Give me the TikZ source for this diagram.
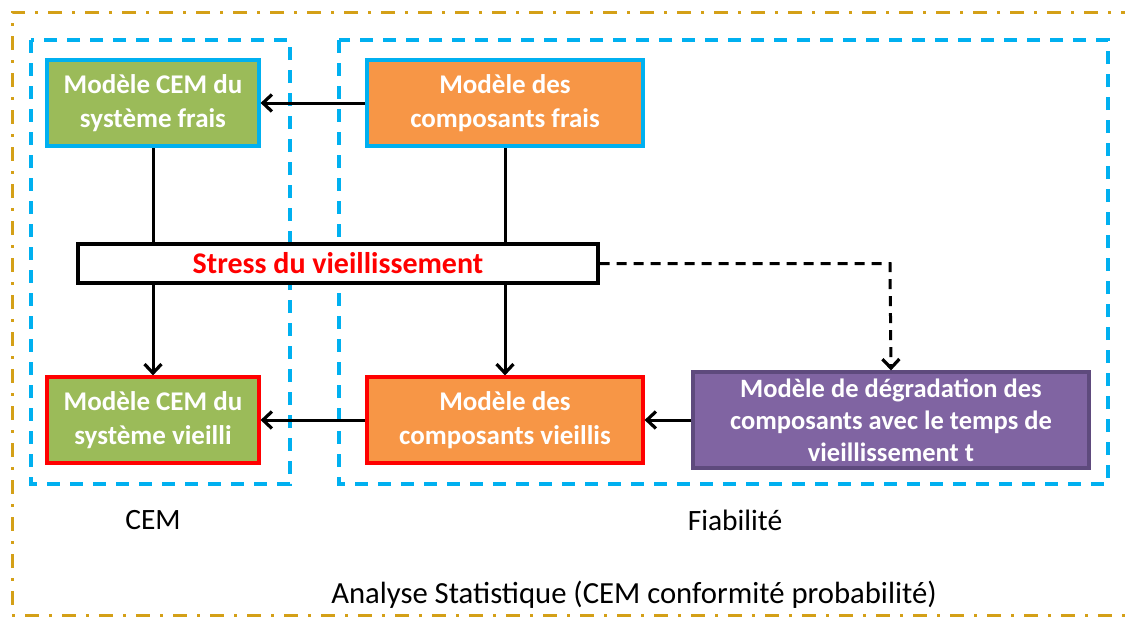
\documentclass[tikz,border=0pt]{standalone}
\usepackage{fontspec}
\setmainfont{Carlito}
\usetikzlibrary{arrows.meta,backgrounds}
\definecolor{cgreen}{HTML}{9BBB59}
\definecolor{corange}{HTML}{F79646}
\definecolor{cpurple}{HTML}{8064A2}
\definecolor{cpurpled}{HTML}{5E4A7D}
\definecolor{ccyan}{HTML}{00B0F0}
\definecolor{cgold}{HTML}{D4A017}
\tikzset{
  box/.style={draw, line width=3.2pt, minimum height=86pt, align=center, text=white,
    font=\fontsize{27}{34}\selectfont\bfseries, inner sep=0pt},
  region/.style={draw=ccyan, line width=3.3pt, dash pattern=on 13pt off 10pt},
  outer/.style={draw=cgold, line width=3pt, dash pattern=on 14pt off 10pt on 3pt off 10pt},
  conn/.style={line width=3pt, -{Straight Barb[length=9pt,width=17pt,line width=3.2pt]}},
  lbl/.style={font=\fontsize{29.5}{34}\selectfont, inner sep=0pt}
}
\begin{document}
\begin{tikzpicture}[x=1pt,y=-1pt]
\useasboundingbox (0,0) rectangle (1125,619);
\node[box, fill=cgreen, draw=ccyan, minimum width=212pt] (cemf) at (153,103) {Modèle CEM du\\système frais};
\node[box, fill=corange, draw=ccyan, minimum width=276pt] (compf) at (505,103) {Modèle des\\composants frais};
\node[draw, line width=3.2pt, fill=white, minimum width=520pt, minimum height=39pt, inner sep=0pt,
  text=red, font=\fontsize{30}{34}\selectfont\bfseries] (stress) at (338,263.5) {Stress du vieillissement};
\node[box, fill=cgreen, draw=red, minimum width=212pt] (cemv) at (153,420) {Modèle CEM du\\système vieilli};
\node[box, fill=corange, draw=red, minimum width=276pt] (compv) at (505,420) {Modèle des\\composants vieillis};
\node[box, fill=cpurple, draw=cpurpled, minimum width=396pt, minimum height=96pt,
  font=\fontsize{26.5}{32}\selectfont\bfseries] (degr) at (891,420) {Modèle de dégradation des\\composants avec le temps de\\vieillissement t};
\node[lbl] (lcem) at (153,520) {CEM};
\node[lbl] (lfiab) at (735,520) {Fiabilité};
\node[lbl, font=\fontsize{30.7}{34}\selectfont] (lana) at (634,595) {Analyse Statistique (CEM conformité probabilité)};
\coordinate (bend) at (890,263.5);
\begin{scope}[on background layer]
\draw[outer] (1135,12) -- (12,12) -- (12,615) -- (1135,615);
\draw[region] (31,40) rectangle (290,484);
\draw[region] (339,40) rectangle (1108,484);
\draw[conn] (cemf.south) -- (cemv.north);
\draw[conn] (compf.south) -- (compv.north);
\end{scope}
\draw[conn] (compf.west) -- (cemf.east);
\draw[conn] (compv.west) -- (cemv.east);
\draw[conn] (degr.west) -- (compv.east);
\draw[conn, dash pattern=on 10pt off 7pt] (stress.east) -- (bend) -- (degr.north);
\end{tikzpicture}
\end{document}
